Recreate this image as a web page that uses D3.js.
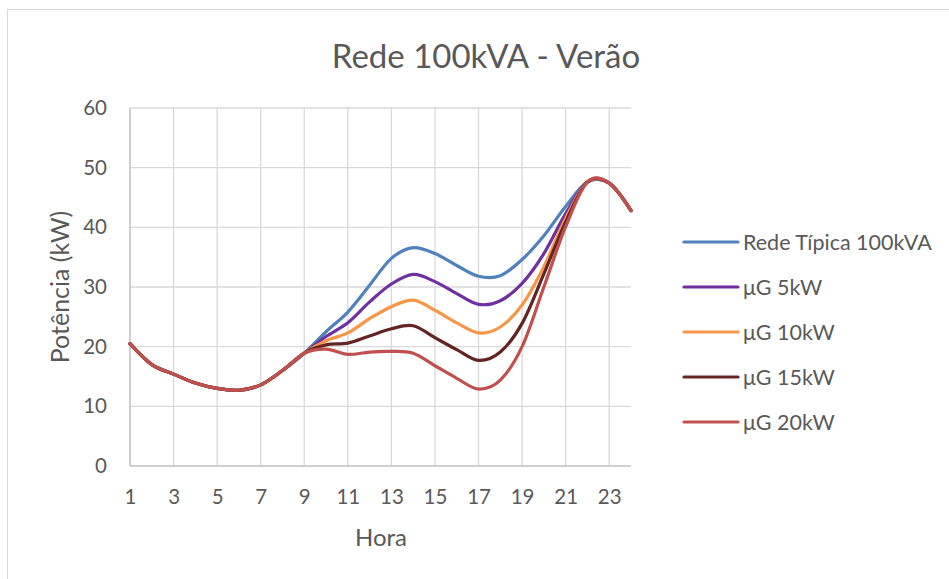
<!DOCTYPE html>
<html>
<head>
<meta charset="utf-8">
<script src="https://cdn.jsdelivr.net/npm/d3@7"></script>
<style>
    body { margin: 0; background: #fff; }
    text { font-family: Lato, "Open Sans", sans-serif; fill: #595959; }
</style>
</head>
<body>
<div class="grafico"></div>
<script>
// dados
const horas = d3.range(1, 25);
const ticksX = [1, 3, 5, 7, 9, 11, 13, 15, 17, 19, 21, 23];
const ticksY = [0, 10, 20, 30, 40, 50, 60];

const redeTipica = [20.5, 17.0, 15.4, 13.9, 13.0, 12.7, 13.6, 16.0, 18.9, 22.5, 25.8, 30.3, 34.8, 36.6, 35.6, 33.6, 31.8, 31.9, 34.6, 38.6, 43.5, 47.6, 47.4, 42.8];
const ug5 = [20.5, 17.0, 15.4, 13.9, 13.0, 12.7, 13.6, 16.0, 18.9, 21.7, 24.0, 27.5, 30.5, 32.1, 30.9, 28.9, 27.1, 27.7, 30.6, 35.6, 42.3, 47.6, 47.4, 42.8];
const ug10 = [20.5, 17.0, 15.4, 13.9, 13.0, 12.7, 13.6, 16.0, 18.9, 21.0, 22.3, 24.7, 26.7, 27.8, 26.1, 24.0, 22.3, 23.3, 27.0, 33.4, 41.5, 47.6, 47.4, 42.8];
const ug15 = [20.5, 17.0, 15.4, 13.9, 13.0, 12.7, 13.6, 16.0, 18.9, 20.3, 20.6, 21.8, 23.0, 23.5, 21.5, 19.5, 17.7, 19.1, 23.9, 32.2, 40.9, 47.6, 47.4, 42.8];
const ug20 = [20.5, 17.0, 15.4, 13.9, 13.0, 12.7, 13.6, 16.0, 18.9, 19.6, 18.7, 19.1, 19.2, 18.9, 16.8, 14.7, 12.9, 14.4, 20.0, 30.0, 40.1, 47.6, 47.4, 42.8];

const nomes = ['Rede Típica 100kVA', 'μG 5kW', 'μG 10kW', 'μG 15kW', 'μG 20kW'];
const cores = ['#4f81bd', '#7030a0', '#f79646', '#632523', '#c0504d'];

const series = [redeTipica, ug5, ug10, ug15, ug20].map((valores, i) => ({
    name: nomes[i],
    values: valores.map((v, j) => ({ hora: horas[j], valor: v }))
}));

const ancho = 949,
    alto = 579;

const margin = { top: 108, left: 130, right: 318, bottom: 113 };

let svg = d3.select('.grafico').append('svg')
    .attr('width', ancho)
    .attr('height', alto);

// borda da area do grafico
svg.append('rect')
    .attr('x', 7.5)
    .attr('y', 9.5)
    .attr('width', 1000)
    .attr('height', 700)
    .attr('fill', 'none')
    .attr('stroke', '#d9d9d9');

let x = d3.scaleLinear()
    .domain([1, 24])
    .range([margin.left, ancho - margin.right]);

let y = d3.scaleLinear()
    .domain([0, 60])
    .range([alto - margin.bottom, margin.top]);

// grelha
svg.append('g')
    .selectAll('line')
    .data(ticksY.slice(1))
    .enter().append('line')
    .attr('x1', x(1))
    .attr('x2', x(24))
    .attr('y1', d => y(d))
    .attr('y2', d => y(d))
    .attr('stroke', '#d9d9d9')
    .attr('stroke-width', 1.3);

svg.append('g')
    .selectAll('line')
    .data(ticksX.slice(1))
    .enter().append('line')
    .attr('x1', d => x(d))
    .attr('x2', d => x(d))
    .attr('y1', y(60))
    .attr('y2', y(0))
    .attr('stroke', '#d9d9d9')
    .attr('stroke-width', 1.3);

// eixos
let eixoX = svg.append('g')
    .attr('transform', 'translate(0,' + y(0) + ')')
    .call(d3.axisBottom(x).tickValues(ticksX).tickSize(0).tickPadding(23).tickFormat(d3.format('d')));

let eixoY = svg.append('g')
    .attr('transform', 'translate(' + x(1) + ',0)')
    .call(d3.axisLeft(y).tickValues(ticksY).tickSize(0).tickPadding(23));

[eixoX, eixoY].forEach(g => {
    g.select('.domain').attr('stroke', '#bfbfbf').attr('stroke-width', 1.5);
    g.selectAll('text')
        .style('font-family', 'Lato, sans-serif')
        .style('font-size', '20.5px')
        .attr('fill', '#595959');
});
eixoY.select('.domain').attr('d', 'M0,' + y(60) + 'V' + y(0));
eixoX.select('.domain').attr('d', 'M' + x(1) + ',0H' + x(24));

// linhas
let linha = d3.line()
    .x(d => x(d.hora))
    .y(d => y(d.valor))
    .curve(d3.curveCardinal);

svg.append('g')
    .selectAll('path')
    .data(series)
    .enter().append('path')
    .attr('d', d => linha(d.values))
    .attr('fill', 'none')
    .attr('stroke', (d, i) => cores[i])
    .attr('stroke-width', 3.2)
    .attr('stroke-linecap', 'round')
    .attr('stroke-linejoin', 'round');

// titulos
svg.append('text')
    .attr('x', 486)
    .attr('y', 68)
    .attr('text-anchor', 'middle')
    .style('font-size', '33px')
    .text('Rede 100kVA - Verão');

svg.append('text')
    .attr('x', 381)
    .attr('y', 546)
    .attr('text-anchor', 'middle')
    .style('font-size', '24px')
    .text('Hora');

svg.append('text')
    .attr('transform', 'translate(69,' + (y(30)) + ') rotate(-90)')
    .attr('text-anchor', 'middle')
    .style('font-size', '25px')
    .text('Potência (kW)');

// legenda
let legenda = svg.append('g')
    .selectAll('g')
    .data(series)
    .enter().append('g')
    .attr('transform', (d, i) => 'translate(684,' + (242 + i * 45) + ')');

legenda.append('line')
    .attr('x1', 0)
    .attr('x2', 54)
    .attr('stroke', (d, i) => cores[i])
    .attr('stroke-width', 3.2)
    .attr('stroke-linecap', 'round');

legenda.append('text')
    .attr('x', 59)
    .attr('dy', '0.35em')
    .style('font-size', '21.5px')
    .text(d => d.name);
</script>
</body>
</html>
